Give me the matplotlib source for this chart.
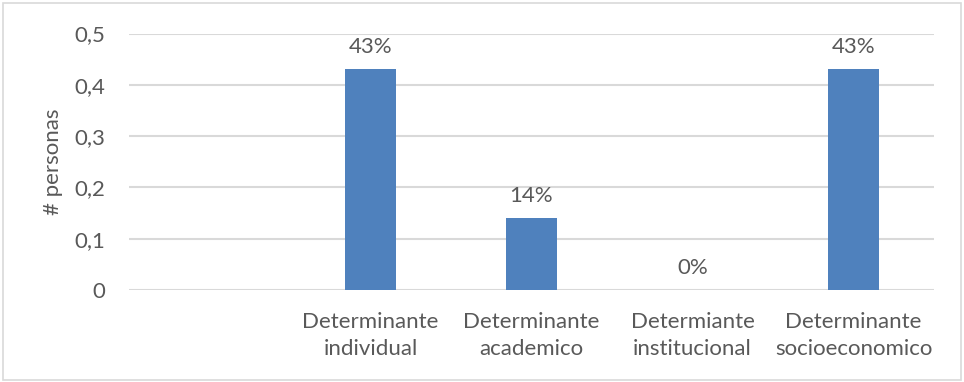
import matplotlib
matplotlib.use("Agg")
import matplotlib.pyplot as plt
from matplotlib.patches import Rectangle

plt.rcParams["font.family"] = ["Lato", "DejaVu Sans"]

CATEGORIAS = ["", "Determinante\nindividual", "Determinante\nacademico",
              "Determiante\ninstitucional", "Determinante\nsocioeconomico"]
VALORES = [None, 0.43, 0.14, 0.0, 0.43]
Y_TICKS = [0, 0.1, 0.2, 0.3, 0.4, 0.5]
Y_LABELS = ["0", "0,1", "0,2", "0,3", "0,4", "0,5"]

BAR_COLOR = "#4F81BD"
TEXT_COLOR = "#595959"
GRID_COLOR = "#D9D9D9"
FS = 16

W, H = 964, 382
fig = plt.figure(figsize=(W / 100, H / 100), dpi=100)
ax = fig.add_axes([129 / W, 1 - 290 / H, (934 - 129) / W, (290 - 33.5) / H])

x = list(range(len(CATEGORIAS)))
alturas = [0 if v is None else v for v in VALORES]
ax.bar(x, alturas, width=0.315, color=BAR_COLOR, zorder=3)

for xi, v in zip(x, VALORES):
    if v is None:
        continue
    ax.annotate(f"{v:.0%}", (xi, v), xytext=(0, 16), textcoords="offset points",
                ha="center", va="center", fontsize=FS, color=TEXT_COLOR)

ax.set_xlim(-0.5, len(CATEGORIAS) - 0.5)
ax.set_ylim(0, 0.5)
ax.set_yticks(Y_TICKS)
ax.set_yticklabels(Y_LABELS)
ax.set_xticks(x)
ax.set_xticklabels(CATEGORIAS, linespacing=1.4)
ax.tick_params(axis="x", length=0, pad=16, labelsize=FS, labelcolor=TEXT_COLOR)
ax.tick_params(axis="y", length=0, pad=17, labelsize=FS, labelcolor=TEXT_COLOR)
ax.grid(True, axis="y", color=GRID_COLOR, linewidth=1.5, zorder=0)
ax.grid(False, axis="x")
for s in ax.spines.values():
    s.set_visible(False)
ax.set_ylabel("# personas", fontsize=FS, color=TEXT_COLOR)
ax.yaxis.set_label_coords(-66 / (934 - 129), 0.5)

fig.patches.append(Rectangle((3 / W, 2 / H), 958 / W, 377 / H, transform=fig.transFigure,
                             fill=False, edgecolor=GRID_COLOR, linewidth=1.2))

fig.savefig("out.png", dpi=100)
